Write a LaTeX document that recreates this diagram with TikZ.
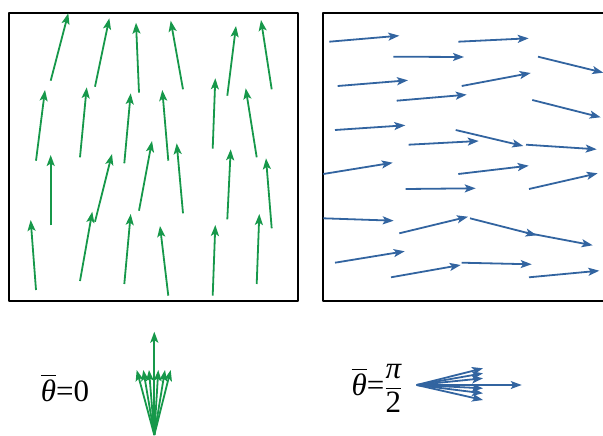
\documentclass[tikz,border=0pt]{standalone}
\usepackage{amsmath}
\usepackage{fontspec}
\setmainfont{Liberation Serif}
\usepackage{tikz}
\usetikzlibrary{arrows.meta}
\definecolor{fieldgreen}{RGB}{22,152,74}
\definecolor{fieldblue}{RGB}{50,100,160}

\begin{document}
\begin{tikzpicture}[x=1pt, y=-1pt, line join=round,
    font=\fontsize{31}{36}\selectfont,
    vec/.style={line width=1.8pt, -{Stealth[length=11pt, width=8pt, inset=2.5pt]}},
    frame/.style={line width=1.6pt}]

    % page: 603 x 436, y grows downwards
    \useasboundingbox (0,0) rectangle (603,436);

    % Frames (the right one runs past the page edge)
    \draw[frame] (9,13) rectangle (298,301);
    \draw[frame] (323,13) rectangle (612,301);

    % Aligned field, mean angle 0 (tail / head)
    \foreach \tx/\ty/\hx/\hy in {
        50.7/80.7/68.3/13.3, 95/86.7/109.3/18.3, 139/92.7/136/22.7,
        183/89.3/170.7/20.7, 227.3/95.7/236/26, 271.7/89.3/261/20,
        36/160.7/45/90, 80/157.3/86.7/87.3, 124.3/163.3/130.7/93.3,
        168.3/160.7/162.3/90, 212.7/148.7/215.3/78.3, 256.7/157.3/245.7/88.3,
        50.7/225.3/50.7/155, 95/221.7/112/154, 139/210.7/152/141,
        183/213.3/176.7/143.3, 227.3/219.3/230.7/149.3, 271.7/228.3/266/158.3,
        36/290/30.7/220, 80/281/92.3/211.7, 124.3/284/130.7/214,
        168.3/295.7/160/226, 212.7/295.7/215.3/225, 256.7/284/259.3/214}
        \draw[vec, fieldgreen] (\tx,\ty) -- (\hx,\hy);

    % Aligned field, mean angle pi/2
    \foreach \tx/\ty/\hx/\hy in {
        329.3/41.7/399.3/35.7, 458.3/41.7/528.7/38.3, 393.3/56.7/464/57,
        538/56.7/603.3/72.7, 337.7/86/408/80.3, 461.7/86/530.7/73,
        396.7/100.7/466.7/94.7, 532.3/100/600.7/117.3, 335/130/405.3/125.3,
        455.7/130/523.3/146, 408.7/144.7/478.7/141, 526/144.7/596.7/149.3,
        323.3/174/392.7/162.7, 458.3/174/528.7/165.7, 405.7/189/475.7/188.3,
        529/189/597.7/173.3, 323.3/218.3/393.7/220.7, 399.3/233.3/468/216.7,
        470/218.3/536.7/235.3, 526/232.7/592.7/245.3, 335/262.7/404.7/251.3,
        391/277.3/460.7/265, 461.7/262.7/531.7/264.3, 529/277.3/599.3/270.7}
        \draw[vec, fieldblue] (\tx,\ty) -- (\hx,\hy);

    % Mean directions
    \node[anchor=base] (meanzero) at (65,401) {$\overline{\text{\itshape θ}}\text{=0}$};
    \coordinate (fanzero) at (154.3,435);
    \foreach \hx in {136.7, 143.3, 149, 158.3, 165, 170.7}
        \draw[vec, fieldgreen] (fanzero) -- (\hx,370);
    \draw[vec, fieldgreen] (fanzero) -- (154.3,331.7);

    \node[anchor=base] (meanhalf) at (377,395)
        {$\overline{\text{\itshape θ}}\text{=}\dfrac{\text{\itshape π}}{\text{2}}$};
    \coordinate (fanhalf) at (416.7,385);
    \foreach \hy in {368.3, 373.3, 378.3, 388.3, 393.3, 400}
        \draw[vec, fieldblue] (fanhalf) -- (483,\hy);
    \draw[vec, fieldblue, line width=1.2pt] (fanhalf) -- (521.7,385);

\end{tikzpicture}
\end{document}
